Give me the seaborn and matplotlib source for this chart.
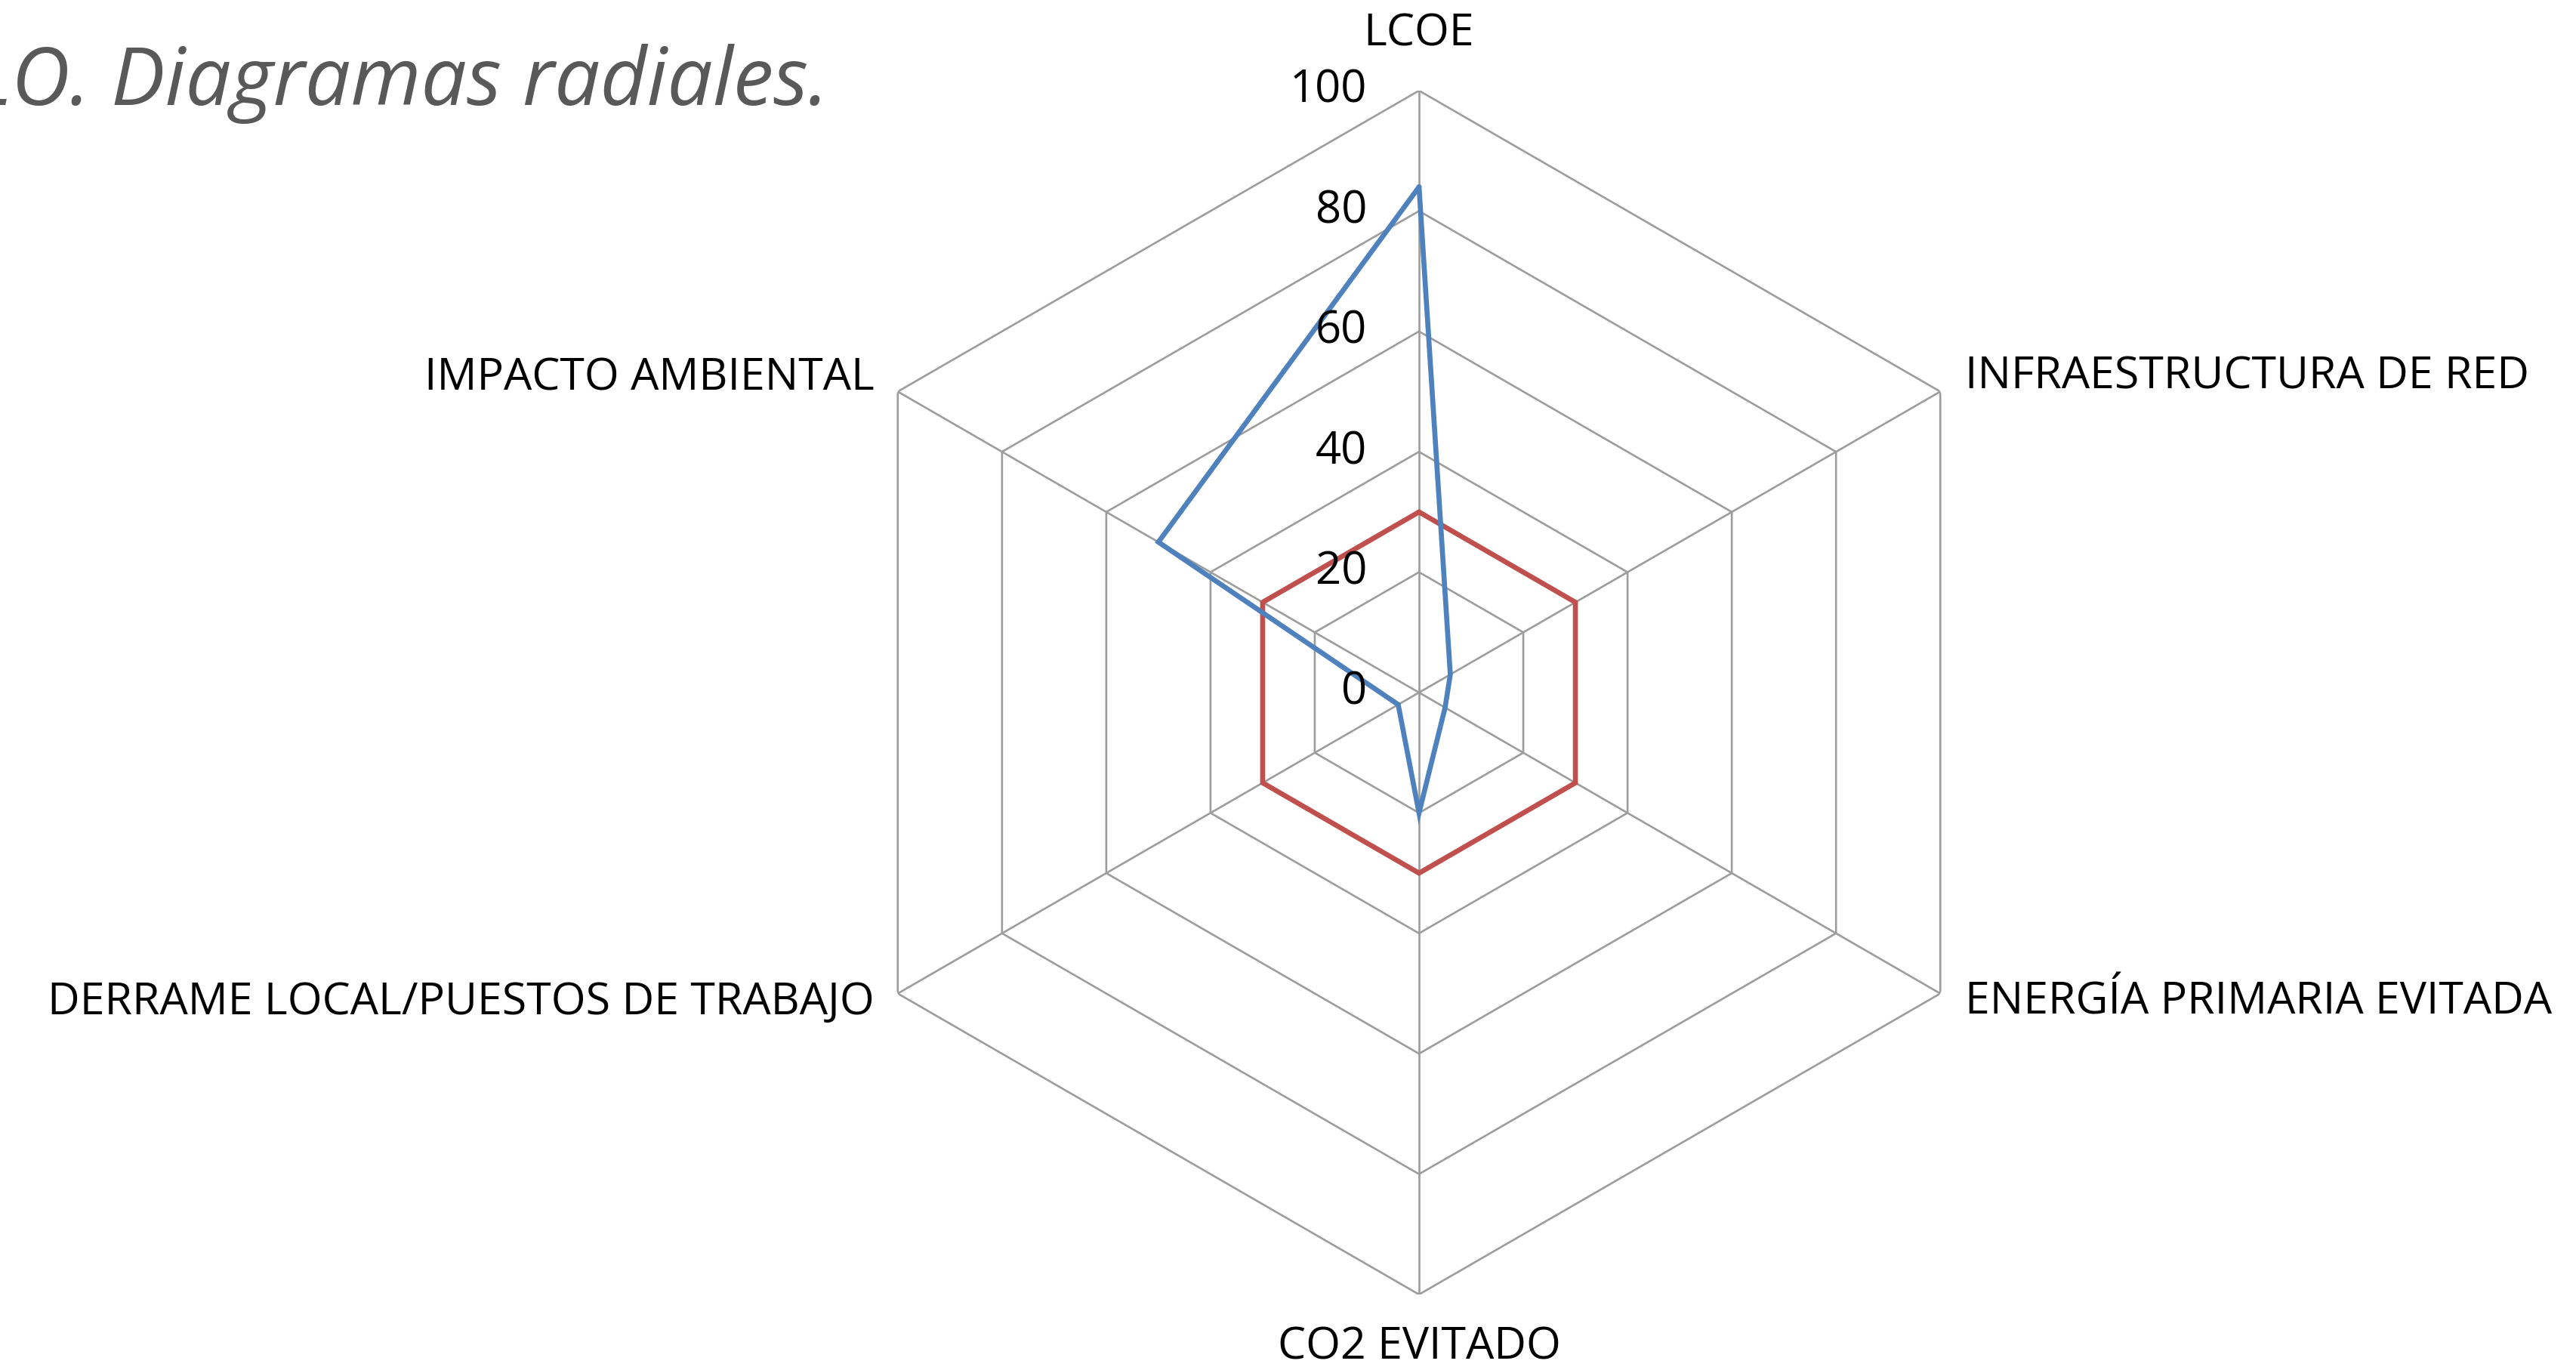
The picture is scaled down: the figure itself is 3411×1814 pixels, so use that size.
import numpy as np
import pandas as pd
import matplotlib
matplotlib.use("Agg")
import matplotlib.pyplot as plt
import seaborn as sns

# Criteria on each spoke, clockwise from the top
categories = [
    "LCOE",
    "INFRAESTRUCTURA DE RED",
    "ENERGÍA PRIMARIA EVITADA",
    "CO2 EVITADO",
    "DERRAME LOCAL/PUESTOS DE TRABAJO",
    "IMPACTO AMBIENTAL",
]
serie_a = [84, 6, 5, 20, 4, 50]     # blue profile
serie_b = [30, 30, 30, 30, 30, 30]  # red reference profile
series_names = ["Serie A", "Serie B"]
series_colors = ["#4f81bd", "#c0504d"]
radial_ticks = [0, 20, 40, 60, 80, 100]
title_text = "LO. Diagramas radiales."

sns.set_theme(style="white", rc={"lines.linewidth": 4.8})
plt.rcParams["font.family"] = ["Open Sans", "DejaVu Sans"]

n = len(categories)
angles = np.arange(n) * 2 * np.pi / n

W, H = 3412, 1814
dpi = 100
fig = plt.figure(figsize=(W / dpi, H / dpi), dpi=dpi, facecolor="white")

cx, cy, R = 1879, 917, 797
ax = fig.add_axes([(cx - R) / W, (H - cy - R) / H, 2 * R / W, 2 * R / H], projection="polar")
ax.set_theta_zero_location("N")
ax.set_theta_direction(-1)
ax.set_ylim(0, 100)
ax.grid(False)
ax.spines["polar"].set_visible(False)
ax.set_xticks([])
ax.set_yticks([])
ax.patch.set_alpha(0)

# hexagonal web: rings and spokes
grid_col = "#9d9d9d"
ring_angles = np.append(angles, angles[0])
for r in radial_ticks[1:]:
    ax.plot(ring_angles, [r] * (n + 1), color=grid_col, lw=1.9, zorder=1)
for a in angles:
    ax.plot([a, a], [0, 100], color=grid_col, lw=1.9, zorder=1)

# each profile closed back on its first criterion; red drawn first, blue on top
closed_idx = list(range(n)) + [0]
for name, vals, col in reversed(list(zip(series_names, [serie_a, serie_b], series_colors))):
    part = pd.DataFrame({"theta": angles[closed_idx], "valor": np.asarray(vals)[closed_idx]})
    sns.lineplot(data=part, x="theta", y="valor", sort=False, estimator=None,
                 color=col, lw=4.8, ax=ax, zorder=3)
for ln in ax.get_lines()[-2:]:
    ln.set_linewidth(4.8)
    ln.set_solid_joinstyle("miter")
ax.set_xlabel("")
ax.set_ylabel("")

# radial value labels along the top spoke
for r in radial_ticks:
    ax.annotate(str(r), xy=(0, r), xytext=(-69, 0), textcoords="offset pixels",
                ha="right", va="center", fontsize=43, color="black")

# category labels around the outer ring
offsets = [
    ((0, 75), "center", "center"),
    ((33, 19), "left", "center"),
    ((33, -12), "left", "center"),
    ((0, -70), "center", "center"),
    ((-31, -12), "right", "center"),
    ((-31, 17), "right", "center"),
]
for a, lab, ((dx, dy), ha, va) in zip(angles, categories, offsets):
    ax.annotate(lab, xy=(a, 100), xytext=(dx, dy), textcoords="offset pixels",
                ha=ha, va=va, fontsize=42.5, color="black", annotation_clip=False)

fig.text(-36 / W, 1 - 139 / H, title_text, ha="left", va="baseline",
         fontsize=77, style="italic", color="#595959")

fig.savefig("out.png", dpi=dpi, facecolor="white")
